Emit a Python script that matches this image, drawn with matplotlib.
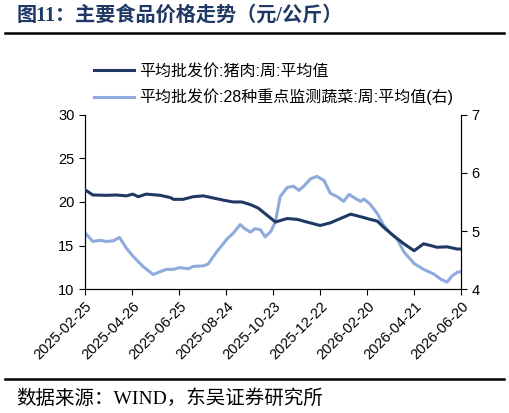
import numpy as np
import pandas as pd
import matplotlib
matplotlib.use('Agg')
import matplotlib.pyplot as plt
import matplotlib.dates as mdates
from matplotlib.lines import Line2D

plt.rcParams['font.family'] = ['Liberation Sans', 'Noto Sans CJK SC']
plt.rcParams['axes.unicode_minus'] = False

# pork, left axis
pork_dates = ['2025-02-25', '2025-03-07', '2025-03-24', '2025-04-06', '2025-04-19', '2025-04-27',
              '2025-05-04', '2025-05-14', '2025-06-01', '2025-06-14', '2025-06-18', '2025-06-30',
              '2025-07-13', '2025-07-26', '2025-08-08', '2025-08-21', '2025-09-02', '2025-09-13',
              '2025-09-24', '2025-10-04', '2025-10-15', '2025-10-26', '2025-11-10', '2025-11-23',
              '2025-12-05', '2025-12-22', '2026-01-04', '2026-01-17', '2026-01-30', '2026-02-12',
              '2026-02-24', '2026-03-05', '2026-03-13', '2026-03-26', '2026-04-08', '2026-04-21',
              '2026-05-03', '2026-05-12', '2026-05-20', '2026-06-02', '2026-06-15', '2026-06-20']
pork_vals = [21.4, 20.8, 20.76, 20.8, 20.7, 20.9,
             20.6, 20.9, 20.76, 20.5, 20.3, 20.3,
             20.6, 20.7, 20.45, 20.2, 20.0, 20.0,
             19.7, 19.3, 18.5, 17.7, 18.1, 18.0,
             17.7, 17.3, 17.6, 18.1, 18.6, 18.3,
             18.0, 17.8, 17.1, 16.1, 15.2, 14.4,
             15.2, 15.0, 14.8, 14.85, 14.6, 14.6]

# 28 vegetables, right axis
veg_dates = ['2025-02-25', '2025-03-07', '2025-03-16', '2025-03-24', '2025-04-02', '2025-04-10',
             '2025-04-19', '2025-04-27', '2025-05-10', '2025-05-23', '2025-06-01', '2025-06-09',
             '2025-06-18', '2025-06-26', '2025-07-07', '2025-07-13', '2025-07-26', '2025-08-01',
             '2025-08-12', '2025-08-25', '2025-09-02', '2025-09-11', '2025-09-17', '2025-09-24',
             '2025-09-30', '2025-10-07', '2025-10-13', '2025-10-20', '2025-10-26', '2025-11-01',
             '2025-11-10', '2025-11-18', '2025-11-25', '2025-12-01', '2025-12-10', '2025-12-18',
             '2025-12-27', '2026-01-04', '2026-01-13', '2026-01-21', '2026-01-28', '2026-02-05',
             '2026-02-12', '2026-02-16', '2026-02-24', '2026-03-05', '2026-03-13', '2026-03-22',
             '2026-03-30', '2026-04-08', '2026-04-21', '2026-05-03', '2026-05-16', '2026-05-25',
             '2026-06-02', '2026-06-08', '2026-06-15', '2026-06-20']
veg_vals = [4.97, 4.82, 4.84, 4.82, 4.83, 4.89,
            4.70, 4.57, 4.39, 4.25, 4.30, 4.34,
            4.34, 4.37, 4.35, 4.39, 4.40, 4.43,
            4.64, 4.86, 4.96, 5.11, 5.04, 4.98,
            5.04, 5.02, 4.90, 4.99, 5.16, 5.59,
            5.75, 5.77, 5.70, 5.77, 5.90, 5.94,
            5.87, 5.65, 5.59, 5.51, 5.63, 5.56,
            5.51, 5.55, 5.46, 5.30, 5.10, 4.96,
            4.87, 4.64, 4.44, 4.34, 4.26, 4.17,
            4.12, 4.22, 4.29, 4.30]

tick_dates = ['2025-02-25', '2025-04-26', '2025-06-25', '2025-08-24', '2025-10-23',
              '2025-12-22', '2026-02-20', '2026-04-21', '2026-06-20']

label_pork = '平均批发价:猪肉:周:平均值'
label_veg = '平均批发价:28种重点监测蔬菜:周:平均值(右)'

c_dark = '#1F3864'
c_light = '#8FAADC'

fig = plt.figure(figsize=(5.09, 4.13), dpi=100)
ax = fig.add_axes([0.167, 0.300, 0.739, 0.422])
ax2 = ax.twinx()

ax.plot(pd.to_datetime(pork_dates), pork_vals, color=c_dark, lw=2.2, zorder=3)
ax2.plot(pd.to_datetime(veg_dates), veg_vals, color=c_light, lw=2.2)
ax.set_zorder(ax2.get_zorder() + 1)
ax.patch.set_visible(False)

ax.set_ylim(10, 30)
ax.set_yticks([10, 15, 20, 25, 30])
ax2.set_ylim(4, 7)
ax2.set_yticks([4, 5, 6, 7])
td = pd.to_datetime(tick_dates)
ax.set_xlim(td[0], td[-1])
ax.set_xticks(td)
ax.set_xticklabels(tick_dates, rotation=45, ha='right', rotation_mode='anchor')

for a in (ax, ax2):
    a.spines['top'].set_visible(False)
    a.tick_params(labelsize=10.5, direction='out', length=4, width=0.8, colors='black')
    for s in a.spines.values():
        s.set_linewidth(0.8)

handles = [Line2D([], [], color=c_dark, lw=2.2), Line2D([], [], color=c_light, lw=2.2)]
fig.legend(handles, [label_pork, label_veg], loc='upper left', bbox_to_anchor=(0.172, 0.862),
           frameon=False, fontsize=11.5, handlelength=2.5, labelspacing=0.65, handletextpad=0.35,
           borderaxespad=0)

fig.text(0.032, 0.962, '图11：主要食品价格走势（元/公斤）', fontsize=14.5, fontweight='bold',
         color=c_dark, family=['Liberation Serif', 'Noto Sans CJK SC'], va='center')
fig.add_artist(Line2D([0.01, 0.99], [0.92, 0.92], color='black', lw=1.8))
fig.add_artist(Line2D([0.01, 0.99], [0.082, 0.082], color='black', lw=1.8))
fig.text(0.032, 0.036, '数据来源：WIND，东吴证券研究所', fontsize=14,
         family=['Liberation Serif', 'Noto Sans CJK SC'], va='center')

fig.savefig('out.png', dpi=100)
